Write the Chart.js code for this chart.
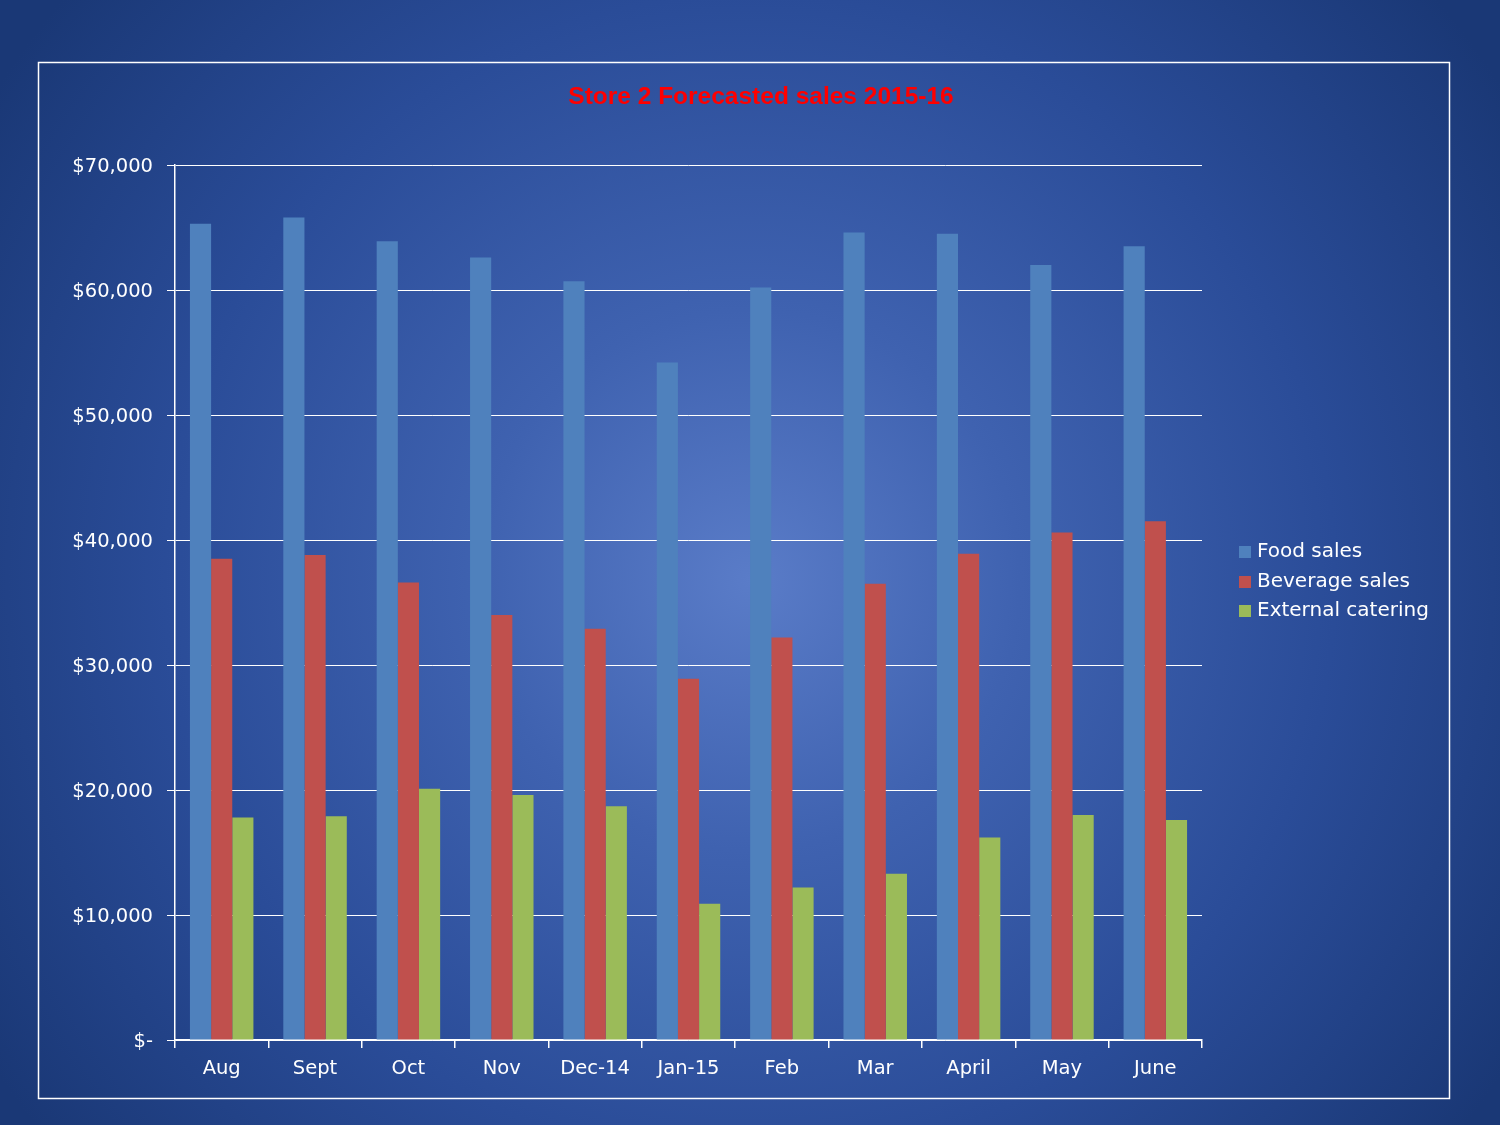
<!DOCTYPE html>
<html>
<head>
<meta charset="utf-8">
<script src="https://cdn.jsdelivr.net/npm/chart.js@4/dist/chart.umd.min.js"></script>
<style>
  html, body { margin: 0; padding: 0; background: #1c3a7a; }
  #wrap { width: 1500px; height: 1125px; position: relative; }
</style>
</head>
<body>
<div id="wrap"><canvas id="c" width="1500" height="1125"></canvas></div>
<script>
const categories = ["Aug", "Sept", "Oct", "Nov", "Dec-14", "Jan-15", "Feb", "Mar", "April", "May", "June"];
const foodSales = [65300, 65800, 63900, 62600, 60700, 54200, 60200, 64600, 64500, 62000, 63500];
const beverageSales = [38500, 38800, 36600, 34000, 32900, 28900, 32200, 36500, 38900, 40600, 41500];
const externalCatering = [17800, 17900, 20100, 19600, 18700, 10900, 12200, 13300, 16200, 18000, 17600];
const seriesNames = ["Food sales", "Beverage sales", "External catering"];
const seriesColors = ["#4f81bd", "#c0504d", "#9bbb59"];
const chartTitle = "Store 2 Forecasted sales 2015-16";
const yTickMax = 70000;
const yTickStep = 10000;

const FONT = "'DejaVu Sans', sans-serif";

const bgPlugin = {
  id: 'bg',
  beforeDraw(chart) {
    const ctx = chart.ctx;
    const W = chart.width, H = chart.height;
    ctx.save();
    const g = ctx.createRadialGradient(750, 580, 0, 750, 580, 900);
    g.addColorStop(0, '#5a7cc8');
    g.addColorStop(0.3, '#3f62b0');
    g.addColorStop(0.65, '#2a4c98');
    g.addColorStop(1, '#1a3876');
    ctx.fillStyle = g;
    ctx.fillRect(0, 0, W, H);
    // frame
    ctx.strokeStyle = '#ffffff';
    ctx.lineWidth = 1.5;
    ctx.strokeRect(38.5, 62.5, 1411, 1036);
    // title
    ctx.fillStyle = '#ff0000';
    ctx.font = "bold 24.5px 'Liberation Sans', Arial, sans-serif";
    ctx.textAlign = 'center';
    ctx.textBaseline = 'middle';
    ctx.fillText(chartTitle, 761, 97);
    ctx.restore();
  },
  afterDraw(chart) {
    const ctx = chart.ctx;
    ctx.save();
    ctx.font = "20px " + FONT;
    ctx.textAlign = 'left';
    ctx.textBaseline = 'middle';
    const rows = [552, 582, 611];
    chart.data.datasets.forEach((ds, i) => {
      ctx.fillStyle = ds.backgroundColor;
      ctx.fillRect(1239, rows[i] - 6, 12, 12);
      ctx.fillStyle = '#ffffff';
      ctx.fillText(ds.label, 1257, rows[i]);
    });
    ctx.restore();
  }
};

new Chart(document.getElementById('c'), {
  type: 'bar',
  data: {
    labels: categories,
    datasets: [
      { label: seriesNames[0], data: foodSales, backgroundColor: seriesColors[0] },
      { label: seriesNames[1], data: beverageSales, backgroundColor: seriesColors[1] },
      { label: seriesNames[2], data: externalCatering, backgroundColor: seriesColors[2] }
    ]
  },
  options: {
    responsive: false,
    animation: false,
    devicePixelRatio: 1,
    layout: { padding: { left: 40, right: 298, top: 165, bottom: 0 } },
    datasets: { bar: { categoryPercentage: 0.68, barPercentage: 1.0 } },
    plugins: {
      legend: { display: false },
      title: { display: false },
      tooltip: { enabled: false }
    },
    scales: {
      x: {
        grid: { display: true, drawOnChartArea: false, drawTicks: true, tickLength: 8, color: '#ffffff', lineWidth: 1.5, offset: true },
        border: { display: true, color: '#ffffff', width: 1.5 },
        ticks: { color: '#ffffff', font: { family: FONT, size: 19.5 }, padding: 9, maxRotation: 0, autoSkip: false },
        afterFit(scale) { scale.height = 85; }
      },
      y: {
        min: 0, max: yTickMax,
        grid: { color: '#ffffff', lineWidth: 1, tickLength: 8, drawTicks: true },
        border: { display: true, color: '#ffffff', width: 1.5 },
        ticks: {
          stepSize: yTickStep,
          color: '#ffffff',
          font: { family: FONT, size: 19.5 },
          padding: 14,
          labelOffset: 2,
          callback: v => v === 0 ? '$-' : '$' + v.toLocaleString('en-US')
        },
        afterFit(scale) { scale.width = 135; }
      }
    }
  },
  plugins: [bgPlugin]
});
</script>
</body>
</html>
